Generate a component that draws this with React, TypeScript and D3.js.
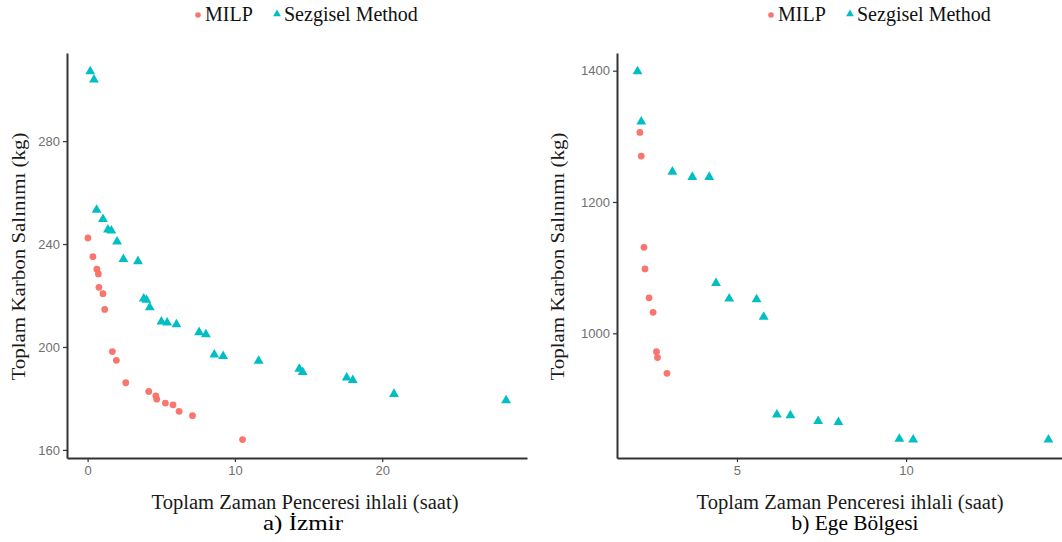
import { useEffect, useRef } from 'react';
import * as d3 from 'd3';

// a) Izmir
const izmirMilpX = [0.02, 0.36, 0.63, 0.73, 0.77, 1.04, 1.16, 1.68, 1.95, 2.59, 4.15, 4.63, 4.69, 5.28, 5.8, 6.21, 7.12, 10.52];
const izmirMilpY = [242.4, 235.1, 230.2, 228.4, 223.2, 220.7, 214.6, 198.2, 194.8, 186.1, 182.7, 181.0, 179.7, 178.2, 177.5, 175.0, 173.3, 164.0];
const izmirHeurX = [0.18, 0.43, 0.61, 1.04, 1.38, 1.61, 2.0, 2.43, 3.42, 3.81, 3.99, 4.22, 5.01, 5.4, 6.03, 7.57, 8.03, 8.6, 9.2, 11.61, 14.37, 14.6, 17.59, 18.0, 20.8, 28.41];
const izmirHeurY = [307.1, 303.9, 253.3, 249.7, 245.6, 245.2, 240.9, 234.1, 233.3, 218.8, 218.3, 215.4, 209.8, 209.4, 208.8, 205.7, 204.9, 197.0, 196.4, 194.6, 191.5, 190.2, 188.1, 187.1, 181.7, 179.2];
const izmirXTicks = [0, 10, 20];
const izmirYTicks = [160, 200, 240, 280];

// b) Ege Bolgesi
const egeMilpX = [2.13, 2.17, 2.25, 2.28, 2.4, 2.52, 2.62, 2.65, 2.93];
const egeMilpY = [1306, 1270, 1131, 1098, 1054, 1032, 972, 963, 939];
const egeHeurX = [2.06, 2.17, 3.09, 3.68, 4.18, 4.38, 4.77, 5.58, 5.79, 6.18, 6.58, 7.4, 8.0, 9.8, 10.21, 14.21];
const egeHeurY = [1398.9, 1322.5, 1246, 1238, 1238, 1076.5, 1052.7, 1051.6, 1024.9, 876, 875, 866, 864.8, 839, 838.1, 838.1];
const egeXTicks = [5, 10];
const egeYTicks = [1000, 1200, 1400];

const seriesNames = ['MILP', 'Sezgisel Method'];
const RED = '#F8766D';
const TEAL = '#00BFC4';

const yTitle = 'Toplam Karbon Salınımı (kg)';
const xTitle = 'Toplam Zaman Penceresi ihlali (saat)';
const SERIF = '"Liberation Serif", "Times New Roman", serif';

// ggplot style 5% expansion
const expand = (vals: number[]) => {
  const [lo, hi] = d3.extent(vals) as [number, number];
  const pad = (hi - lo) * 0.05;
  return [lo - pad, hi + pad];
};

function drawPanel(svg: any, opt: any) {
  const g = svg.append('g');
  const x = d3.scaleLinear().domain(expand([...opt.mx, ...opt.hx])).range([opt.left, opt.right]);
  const y = d3.scaleLinear().domain(expand([...opt.my, ...opt.hy])).range([opt.bottom, opt.top]);

  // axes
  const xa = g.append('g').attr('transform', `translate(0,${opt.bottom})`)
    .call(d3.axisBottom(x).tickValues(opt.xt).tickFormat(d3.format('d')).tickSize(4).tickSizeOuter(0).tickPadding(4));
  const ya = g.append('g').attr('transform', `translate(${opt.left},0)`)
    .call(d3.axisLeft(y).tickValues(opt.yt).tickFormat(d3.format('d')).tickSize(4).tickSizeOuter(0).tickPadding(3));
  [xa, ya].forEach(a => {
    a.select('.domain').attr('stroke', '#333').attr('stroke-width', 2);
    a.selectAll('line').attr('stroke', '#333').attr('stroke-width', 1.2);
    a.selectAll('text').attr('fill', '#707070').style('font-family', '"Liberation Sans", Arial, sans-serif').style('font-size', '13px');
  });

  // points
  g.selectAll('.milp').data(opt.mx).enter().append('circle')
    .attr('cx', (d: number) => x(d))
    .attr('cy', (_: number, i: number) => y(opt.my[i]))
    .attr('r', 3.4).attr('fill', RED);
  const tri = d3.symbol().type(d3.symbolTriangle).size(42);
  g.selectAll('.heur').data(opt.hx).enter().append('path')
    .attr('d', tri)
    .attr('transform', (d: number, i: number) => `translate(${x(d)},${y(opt.hy[i])})`)
    .attr('fill', TEAL);

  // legend
  const lg = g.append('g').style('font-family', SERIF).style('font-size', '20px').attr('fill', '#111');
  lg.append('circle').attr('cx', opt.legX).attr('cy', 15).attr('r', 2.8).attr('fill', RED);
  lg.append('text').attr('x', opt.legX + 7).attr('y', 21).text(seriesNames[0]);
  lg.append('path').attr('d', d3.symbol().type(d3.symbolTriangle).size(26)())
    .attr('transform', `translate(${opt.legX + 79},14)`).attr('fill', TEAL);
  lg.append('text').attr('x', opt.legX + 86).attr('y', 21).text(seriesNames[1]);

  // titles
  g.append('text')
    .attr('transform', `translate(${opt.yTitleX},${(opt.top + opt.bottom) / 2 + 1}) rotate(-90)`)
    .attr('text-anchor', 'middle')
    .attr('textLength', 248).attr('lengthAdjust', 'spacingAndGlyphs')
    .style('font-family', SERIF).style('font-size', '19px').attr('fill', '#1a1a1a')
    .text(yTitle);
  g.append('text')
    .attr('x', opt.titleCx).attr('y', 509)
    .attr('text-anchor', 'middle')
    .attr('textLength', 307).attr('lengthAdjust', 'spacingAndGlyphs')
    .style('font-family', SERIF).style('font-size', '20px').attr('fill', '#1a1a1a')
    .text(xTitle);
  g.append('text')
    .attr('x', opt.capCx).attr('y', 530)
    .attr('text-anchor', 'middle')
    .attr('textLength', opt.capLen).attr('lengthAdjust', 'spacingAndGlyphs')
    .style('font-family', SERIF).style('font-size', '21px').attr('fill', '#000')
    .text(opt.caption);
}

export default function App() {
  const svgRef = useRef<SVGSVGElement>(null);

  useEffect(() => {
    if (!svgRef.current) return;
    const svg = d3.select(svgRef.current);
    svg.selectAll('*').remove();

    drawPanel(svg, {
      mx: izmirMilpX, my: izmirMilpY, hx: izmirHeurX, hy: izmirHeurY,
      xt: izmirXTicks, yt: izmirYTicks,
      left: 67, right: 527, top: 53, bottom: 458,
      legX: 198, yTitleX: 25, titleCx: 305, capCx: 303, capLen: 80, caption: 'a) İzmir',
    });
    drawPanel(svg, {
      mx: egeMilpX, my: egeMilpY, hx: egeHeurX, hy: egeHeurY,
      xt: egeXTicks, yt: egeYTicks,
      left: 617, right: 1069, top: 53, bottom: 458,
      legX: 771, yTitleX: 564, titleCx: 850, capCx: 855, capLen: 127, caption: 'b) Ege Bölgesi',
    });
  }, []);

  return (
    <div style={{ position: 'absolute', left: 0, top: 0 }}>
      <svg ref={svgRef} width={1062} height={542} style={{ display: 'block', background: '#fff' }} />
    </div>
  );
}
